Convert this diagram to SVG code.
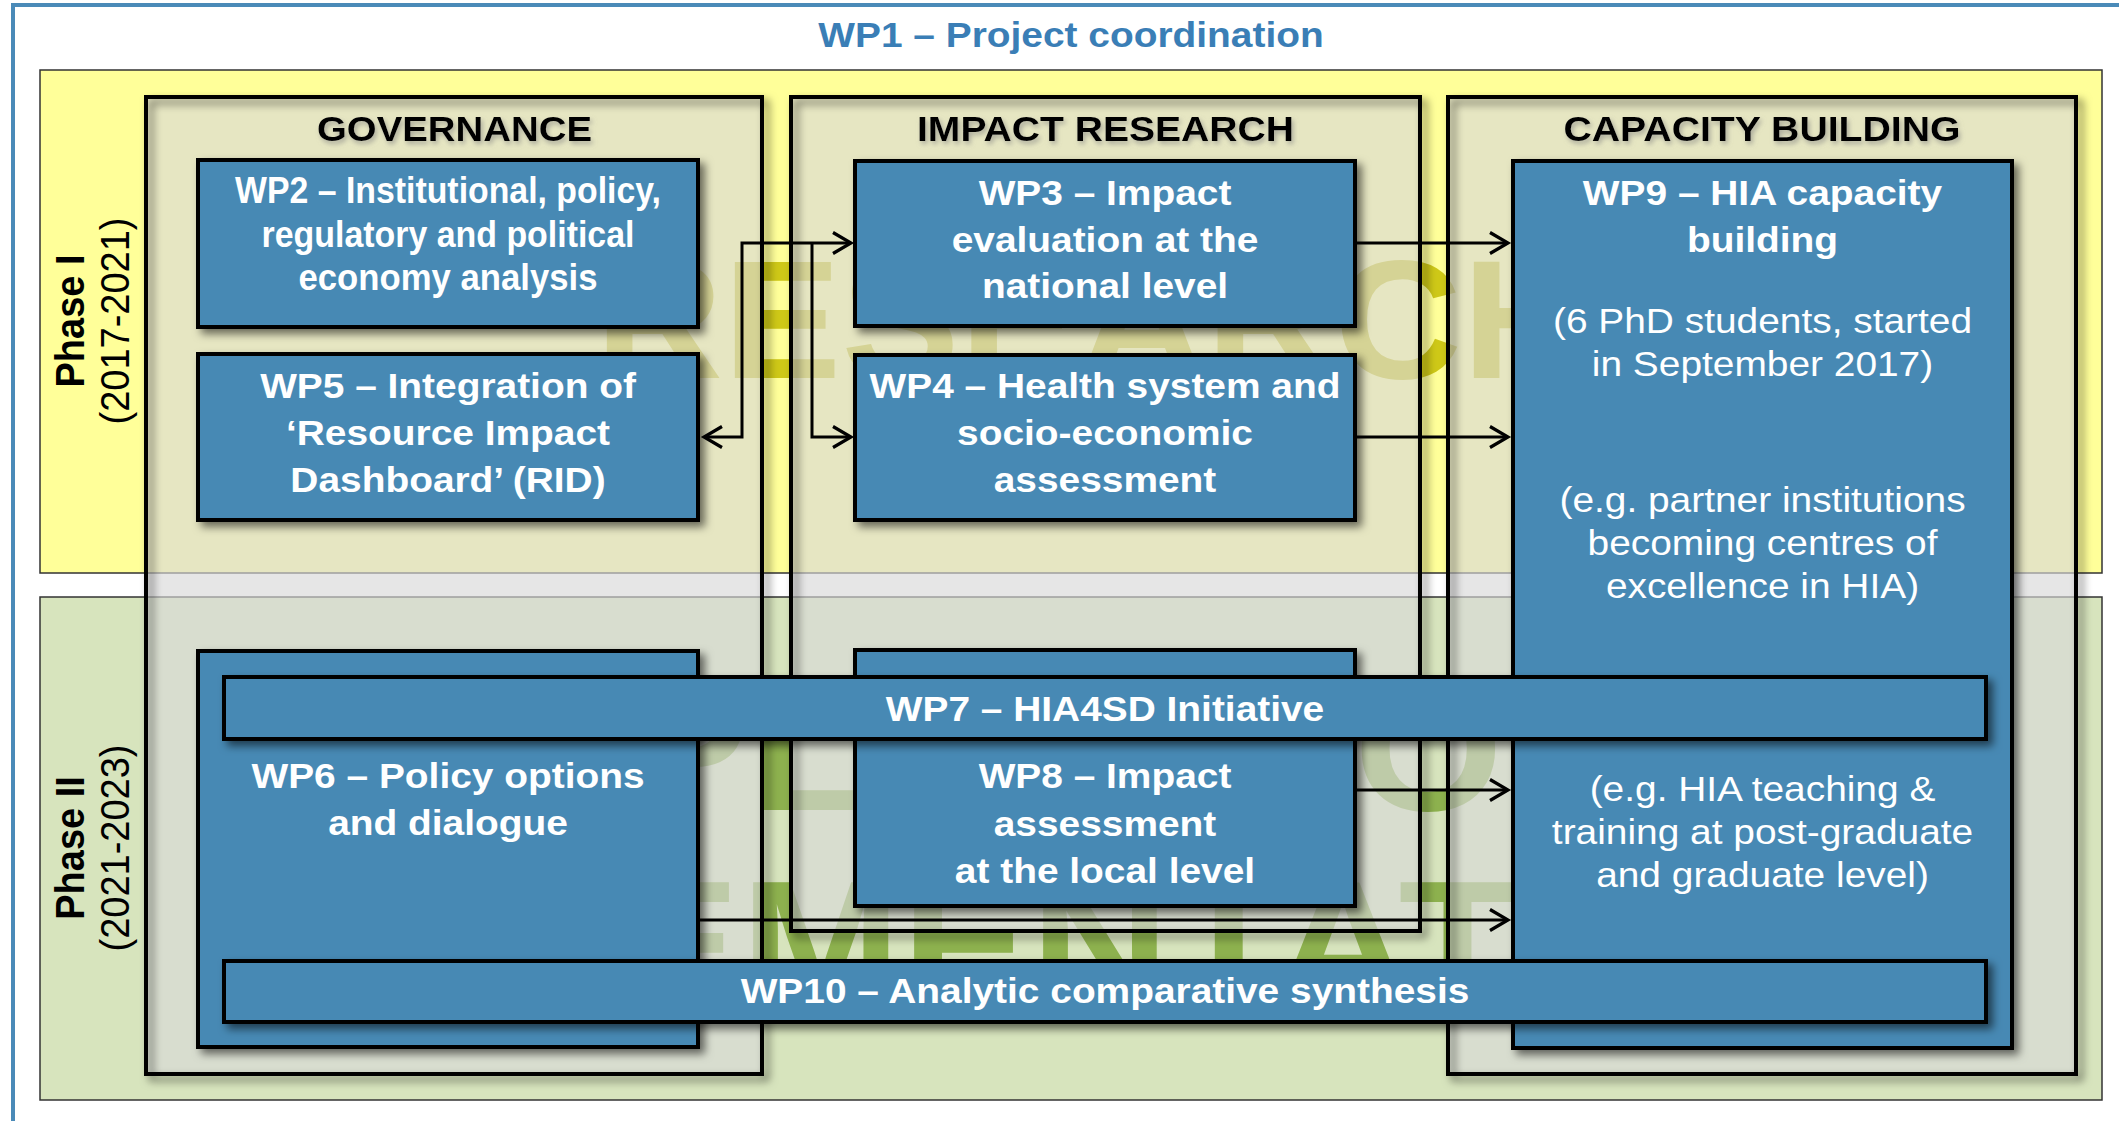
<svg xmlns="http://www.w3.org/2000/svg" width="2119" height="1121" viewBox="0 0 2119 1121">
  <defs>
    <style>
      .wp { font-family: "Liberation Sans", Arial, Helvetica, sans-serif; font-weight: bold; font-size: 36px; fill: #ffffff; text-anchor: middle; }
      .wpn { font-family: "Liberation Sans", Arial, Helvetica, sans-serif; font-weight: normal; font-size: 36px; fill: #ffffff; text-anchor: middle; }
      .wp2 { font-family: "Liberation Sans", Arial, Helvetica, sans-serif; font-weight: bold; font-size: 36px; fill: #ffffff; text-anchor: middle; }
      .coltitle { font-family: "Liberation Sans", Arial, Helvetica, sans-serif; font-weight: bold; font-size: 35px; fill: #000000; text-anchor: middle; }
      .title { font-family: "Liberation Sans", Arial, Helvetica, sans-serif; font-weight: bold; font-size: 36px; fill: #3a7eb6; text-anchor: middle; }
      .phase { font-family: "Liberation Sans", Arial, Helvetica, sans-serif; font-weight: bold; font-size: 38px; fill: #000000; text-anchor: middle; }
      .years { font-family: "Liberation Sans", Arial, Helvetica, sans-serif; font-weight: normal; font-size: 38px; fill: #000000; text-anchor: middle; }
      .wm { font-family: "Liberation Sans", Arial, Helvetica, sans-serif; font-weight: bold; }
      .box { fill: #4689b4; stroke: #000000; stroke-width: 4; filter: url(#shadow); }
      .colfill { fill: #d9d9d9; fill-opacity: 0.65; stroke: none; }
      .colborder { fill: none; stroke: #000000; stroke-width: 4; filter: url(#shadow); }
      .conn { fill: none; stroke: #000000; stroke-width: 3; }
    </style>
    <filter id="shadow" x="-10%" y="-30%" width="125%" height="170%">
      <feDropShadow dx="5" dy="5" stdDeviation="4" flood-color="#000000" flood-opacity="0.55"/>
    </filter>
    <filter id="glow" x="-10%" y="-40%" width="120%" height="190%">
      <feDropShadow dx="2" dy="3" stdDeviation="2.5" flood-color="#808080" flood-opacity="0.6"/>
    </filter>
    <clipPath id="phase2-words">
      <rect x="699" y="597" width="1420" height="503"/>
    </clipPath>
    <marker id="arrow" viewBox="-22 -13 25 26" refX="0" refY="0" markerWidth="25" markerHeight="26" markerUnits="userSpaceOnUse" orient="auto-start-reverse" overflow="visible">
      <path d="M -18,-10.5 L 0,0 L -18,10.5" fill="none" stroke="#000000" stroke-width="3.2"/>
    </marker>
  </defs>

  <rect x="0" y="0" width="2119" height="1121" fill="#ffffff"/>

  <!-- WP1 outer frame and heading -->
  <g id="wp1">
    <rect x="13" y="5" width="2130" height="1140" fill="none" stroke="#4a8ab8" stroke-width="4"/>
    <text class="title" transform="translate(1071,47) scale(1.08,1)" x="0" y="0">WP1 – Project coordination</text>
  </g>

  <!-- phase bands -->
  <g id="phase1">
    <rect x="40" y="70" width="2062" height="503" fill="#ffff99" stroke="#333333" stroke-width="1.5"/>
  </g>
  <g id="phase2">
    <rect x="40" y="597" width="2062" height="503" fill="#d7e4bd" stroke="#333333" stroke-width="1.5"/>
  </g>

  <!-- large background words -->
  <g id="watermarks">
    <text class="wm" x="595" y="378" font-size="168" textLength="995" lengthAdjust="spacingAndGlyphs" fill="#c6be00" fill-opacity="0.85">RESEARCH</text>
    <g clip-path="url(#phase2-words)">
      <text class="wm" x="354" y="810" font-size="178" textLength="1288" lengthAdjust="spacingAndGlyphs" fill="#8db14e">APPLICATION</text>
      <text class="wm" x="150" y="1005" font-size="178" textLength="1710" lengthAdjust="spacingAndGlyphs" fill="#8db14e">IMPLEMENTATION</text>
    </g>
  </g>

  <!-- phase labels -->
  <g id="phase1-label">
    <text class="phase" transform="translate(84,321) scale(1.08,1) rotate(-90)" x="0" y="0">Phase I</text>
    <text class="years" transform="translate(129,321) scale(1.08,1) rotate(-90)" x="0" y="0">(2017-2021)</text>
  </g>
  <g id="phase2-label">
    <text class="phase" transform="translate(84,848) scale(1.08,1) rotate(-90)" x="0" y="0">Phase II</text>
    <text class="years" transform="translate(129,848) scale(1.08,1) rotate(-90)" x="0" y="0">(2021-2023)</text>
  </g>

  <!-- thematic columns -->
  <g id="col-governance">
    <rect class="colfill" x="146" y="97" width="616" height="977"/>
    <rect class="colborder" x="146" y="97" width="616" height="977"/>
    <text class="coltitle" filter="url(#glow)" x="454.5" y="141" textLength="275" lengthAdjust="spacingAndGlyphs">GOVERNANCE</text>
  </g>
  <g id="col-impact-research">
    <rect class="colfill" x="791" y="97" width="629" height="834"/>
    <rect class="colborder" x="791" y="97" width="629" height="834"/>
    <text class="coltitle" filter="url(#glow)" x="1105.5" y="141" textLength="377" lengthAdjust="spacingAndGlyphs">IMPACT RESEARCH</text>
  </g>
  <g id="col-capacity-building">
    <rect class="colfill" x="1448" y="97" width="628" height="977"/>
    <rect class="colborder" x="1448" y="97" width="628" height="977"/>
    <text class="coltitle" filter="url(#glow)" x="1762" y="141" textLength="397" lengthAdjust="spacingAndGlyphs">CAPACITY BUILDING</text>
  </g>

  <!-- connectors -->
  <g id="connectors">
    <path class="conn" d="M 704,437 H 742 V 243 H 851" marker-start="url(#arrow)" marker-end="url(#arrow)"/>
    <path class="conn" d="M 812,243 V 437 H 851" marker-end="url(#arrow)"/>
    <path class="conn" d="M 1357,243 H 1508" marker-end="url(#arrow)"/>
    <path class="conn" d="M 1357,437 H 1508" marker-end="url(#arrow)"/>
    <path class="conn" d="M 1357,790 H 1508" marker-end="url(#arrow)"/>
    <path class="conn" d="M 700,920 H 1508" marker-end="url(#arrow)"/>
  </g>

  <!-- work packages -->
  <g id="wp2">
    <rect class="box" x="198" y="160" width="500" height="167"/>
    <text class="wp2" x="448" y="203" textLength="426" lengthAdjust="spacingAndGlyphs">WP2 – Institutional, policy,</text>
    <text class="wp2" x="448" y="247" textLength="373" lengthAdjust="spacingAndGlyphs">regulatory and political</text>
    <text class="wp2" x="448" y="290" textLength="299" lengthAdjust="spacingAndGlyphs">economy analysis</text>
  </g>

  <g id="wp5">
    <rect class="box" x="198" y="354" width="500" height="166"/>
    <g transform="translate(448,0) scale(1.08,1)">
      <text class="wp" x="0" y="398">WP5 – Integration of</text>
      <text class="wp" x="0" y="445">‘Resource Impact</text>
      <text class="wp" x="0" y="492">Dashboard’ (RID)</text>
    </g>
  </g>

  <g id="wp3">
    <rect class="box" x="855" y="161" width="500" height="165"/>
    <g transform="translate(1105,0) scale(1.08,1)">
      <text class="wp" x="0" y="205">WP3 – Impact</text>
      <text class="wp" x="0" y="252">evaluation at the</text>
      <text class="wp" x="0" y="298">national level</text>
    </g>
  </g>

  <g id="wp4">
    <rect class="box" x="855" y="355" width="500" height="165"/>
    <g transform="translate(1105,0) scale(1.08,1)">
      <text class="wp" x="0" y="398">WP4 – Health system and</text>
      <text class="wp" x="0" y="445">socio-economic</text>
      <text class="wp" x="0" y="492">assessment</text>
    </g>
  </g>

  <g id="wp9">
    <rect class="box" x="1513" y="161" width="499" height="887"/>
    <g transform="translate(1762.5,0) scale(1.08,1)">
      <text class="wp" x="0" y="205">WP9 – HIA capacity</text>
      <text class="wp" x="0" y="252">building</text>
      <text class="wpn" x="0" y="333">(6 PhD students, started</text>
      <text class="wpn" x="0" y="376">in September 2017)</text>
      <text class="wpn" x="0" y="512">(e.g. partner institutions</text>
      <text class="wpn" x="0" y="555">becoming centres of</text>
      <text class="wpn" x="0" y="598">excellence in HIA)</text>
      <text class="wpn" x="0" y="801">(e.g. HIA teaching &amp;</text>
      <text class="wpn" x="0" y="844">training at post-graduate</text>
      <text class="wpn" x="0" y="887">and graduate level)</text>
    </g>
  </g>

  <g id="wp6">
    <rect class="box" x="198" y="651" width="500" height="396"/>
    <g transform="translate(448,0) scale(1.08,1)">
      <text class="wp" x="0" y="788">WP6 – Policy options</text>
      <text class="wp" x="0" y="835">and dialogue</text>
    </g>
  </g>

  <g id="wp8">
    <rect class="box" x="855" y="650" width="500" height="256"/>
    <g transform="translate(1105,0) scale(1.08,1)">
      <text class="wp" x="0" y="788">WP8 – Impact</text>
      <text class="wp" x="0" y="836">assessment</text>
      <text class="wp" x="0" y="883">at the local level</text>
    </g>
  </g>

  <g id="wp7">
    <rect class="box" x="224" y="677" width="1762" height="62"/>
    <text class="wp" transform="translate(1105,721) scale(1.08,1)" x="0" y="0">WP7 – HIA4SD Initiative</text>
  </g>

  <g id="wp10">
    <rect class="box" x="224" y="961" width="1762" height="61"/>
    <text class="wp" transform="translate(1105,1003) scale(1.08,1)" x="0" y="0">WP10 – Analytic comparative synthesis</text>
  </g>
</svg>
